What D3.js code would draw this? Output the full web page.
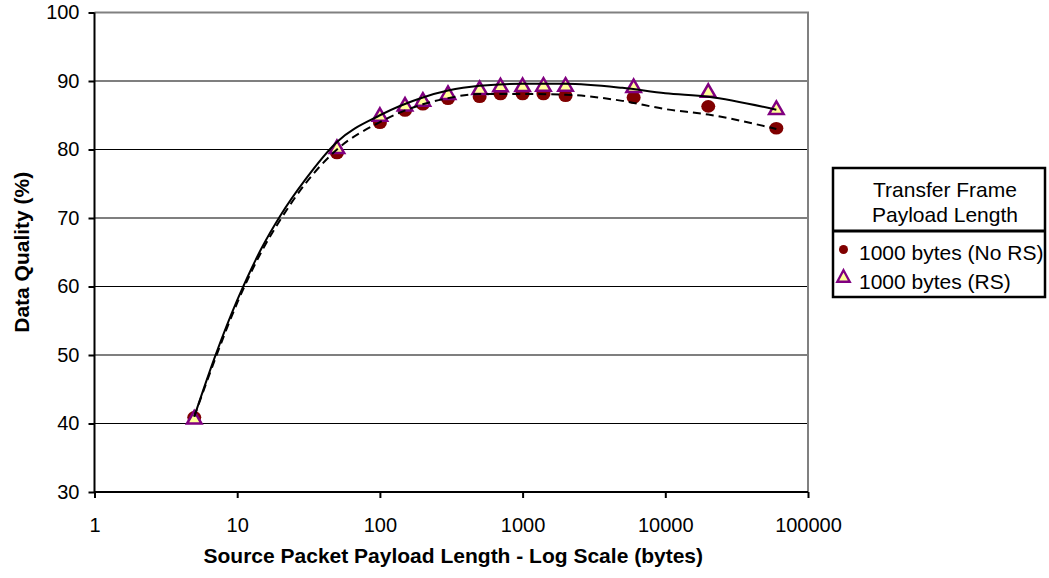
<!DOCTYPE html>
<html><head><meta charset="utf-8">
<script src="https://cdn.jsdelivr.net/npm/d3@7"></script>
<style>
html,body{margin:0;padding:0;background:#fff;}
svg{display:block;font-family:Arial,"Liberation Sans",sans-serif;}
</style></head>
<body>
<svg id="chart" width="1049" height="578"></svg>
<script>
// ---- data ----
const pointX = [5, 50, 100, 150, 200, 300, 500, 700, 1000, 1400, 2000, 6000, 20000, 60000];
const noRsValues = [40.9, 79.5, 83.9, 85.7, 86.6, 87.4, 87.7, 88.1, 88.1, 88.1, 87.85, 87.6, 86.3, 83.1];
const rsValues = [40.9, 80.4, 85.1, 86.6, 87.3, 88.3, 89.0, 89.4, 89.45, 89.5, 89.5, 89.3, 88.6, 86.1];

const modelX = [5, 7, 10, 15, 20, 30, 50, 100, 200, 300, 500, 1000, 2000, 5000, 10000, 20000, 60000];
const modelRs = [41.0, 49.8, 58.0, 65.8, 70.3, 75.6, 81.1, 85.0, 87.6, 88.6, 89.3, 89.6, 89.6, 89.0, 88.2, 87.7, 85.8];
const modelNoRs = [41.0, 49.4, 57.6, 65.3, 69.7, 75.0, 80.0, 84.0, 86.6, 87.5, 88.1, 88.1, 88.0, 87.1, 85.9, 85.1, 83.0];

const xTicks = [1, 10, 100, 1000, 10000, 100000];
const yTicks = [30, 40, 50, 60, 70, 80, 90, 100];
const legendTitle = ["Transfer Frame", "Payload Length"];
const seriesNames = ["1000 bytes (No RS)", "1000 bytes (RS)"];
const xTitle = "Source Packet Payload Length - Log Scale (bytes)";
const yTitle = "Data Quality (%)";

// ---- layout ----
const L = 94.5, R = 808, T = 12.5, B = 492;
const svg = d3.select("#chart");
const x = d3.scaleLog().domain([1, 100000]).range([L, R]);
const y = d3.scaleLinear().domain([30, 100]).range([B, T]);

// gridlines
svg.append("g").selectAll("line").data(yTicks.filter(v => v > 30 && v < 100)).join("line")
  .attr("x1", L).attr("x2", R).attr("y1", d => y(d)).attr("y2", d => y(d))
  .attr("stroke", "#000").attr("stroke-width", 1.2);
// top/right border (grey)
svg.append("path").attr("d", `M${L},${y(100)}H${R}V${B}`)
  .attr("fill", "none").attr("stroke", "#808080").attr("stroke-width", 2);

// axes
const yAxis = d3.axisLeft(y).tickValues(yTicks).tickSize(6).tickPadding(9).tickFormat(d3.format("d"));
const gy = svg.append("g").attr("transform", `translate(${L},0)`).call(yAxis);
const xAxis = d3.axisBottom(x).tickValues(xTicks).tickSize(6).tickPadding(20).tickFormat(d3.format("d"));
const gx = svg.append("g").attr("transform", `translate(0,${B})`).call(xAxis);
[gx, gy].forEach(g => {
  g.select(".domain").attr("stroke", "#000").attr("stroke-width", 2);
  g.selectAll(".tick line").attr("stroke", "#000").attr("stroke-width", 2);
  g.selectAll(".tick text").attr("font-size", 20).attr("fill", "#000")
    .attr("font-family", "Arial, 'Liberation Sans', sans-serif");
});
gx.select(".domain").attr("d", `M${L},0H${R}`);
gy.select(".domain").attr("d", `M0,${B}V${T}`);

// markers
const circ = svg.append("g");
circ.selectAll("ellipse").data(pointX.map((d, i) => [d, noRsValues[i]])).join("ellipse")
  .attr("cx", d => x(d[0])).attr("cy", d => y(d[1])).attr("rx", 7).attr("ry", 6.3)
  .attr("fill", "#800000");
const tri = (cx, cy, w, h) => `M${cx},${cy - h / 2}L${cx + w / 2},${cy + h / 2}L${cx - w / 2},${cy + h / 2}Z`;
svg.append("g").selectAll("path").data(pointX.map((d, i) => [d, rsValues[i]])).join("path")
  .attr("d", d => tri(x(d[0]), y(d[1]), 14.5, 12.5))
  .attr("fill", "#FFFF99").attr("stroke", "#800080").attr("stroke-width", 2.5).attr("stroke-linejoin", "miter");

// model lines
const line = d3.line().x(d => x(d[0])).y(d => y(d[1])).curve(d3.curveMonotoneX);
svg.append("path").datum(modelX.map((d, i) => [d, modelNoRs[i]]))
  .attr("d", line).attr("fill", "none").attr("stroke", "#000").attr("stroke-width", 2)
  .attr("stroke-dasharray", "8,5");
svg.append("path").datum(modelX.map((d, i) => [d, modelRs[i]]))
  .attr("d", line).attr("fill", "none").attr("stroke", "#000").attr("stroke-width", 2);

// axis titles
svg.append("text").attr("x", (L + R) / 2 + 2).attr("y", 563).attr("text-anchor", "middle")
  .attr("font-size", 21).attr("font-weight", "bold").text(xTitle);
svg.append("text").attr("transform", `translate(29,${(T + B) / 2}) rotate(-90)`).attr("text-anchor", "middle")
  .attr("font-size", 21).attr("font-weight", "bold").text(yTitle);

// legend
const lg = svg.append("g");
lg.append("rect").attr("x", 833).attr("y", 168).attr("width", 212).attr("height", 129)
  .attr("fill", "#fff").attr("stroke", "#000").attr("stroke-width", 2.5);
lg.append("line").attr("x1", 833).attr("x2", 1045).attr("y1", 231).attr("y2", 231)
  .attr("stroke", "#000").attr("stroke-width", 3);
legendTitle.forEach((t, i) => lg.append("text").attr("x", 945).attr("y", 197 + i * 25)
  .attr("text-anchor", "middle").attr("font-size", 21).text(t));
lg.append("ellipse").attr("cx", 843.5).attr("cy", 249.5).attr("rx", 4.5).attr("ry", 4.5).attr("fill", "#800000");
lg.append("path").attr("d", tri(843.5, 276, 12.5, 11.5)).attr("fill", "#FFFF99")
  .attr("stroke", "#800080").attr("stroke-width", 2.3);
seriesNames.forEach((t, i) => lg.append("text").attr("x", 859).attr("y", 260 + i * 28.5)
  .attr("font-size", 21).text(t));
</script>
</body></html>
